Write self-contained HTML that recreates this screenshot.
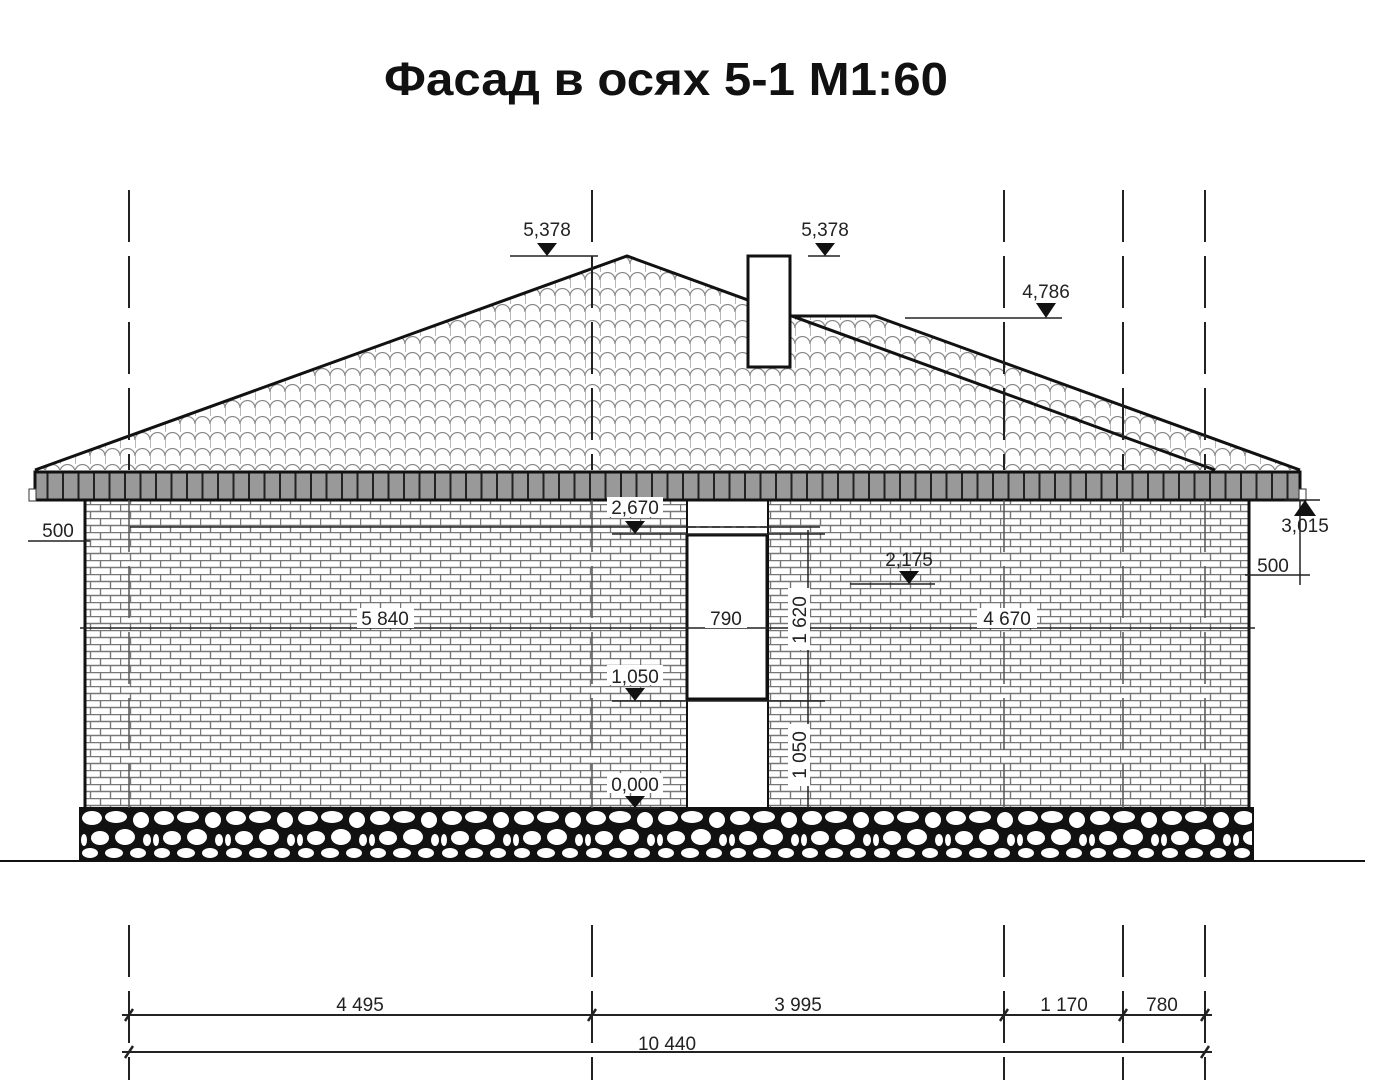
<!DOCTYPE html>
<html><head><meta charset="utf-8"><style>
html,body{margin:0;padding:0;background:#fff;}
svg{display:block;}
text{font-family:"Liberation Sans",sans-serif;}
</style></head><body>
<svg width="1375" height="1080" viewBox="0 0 1375 1080" xmlns="http://www.w3.org/2000/svg">
<defs>
<pattern id="roof" width="15" height="16" patternUnits="userSpaceOnUse">
<rect width="15" height="16" fill="#fff"/>
<path d="M0 8 A7.5 7.5 0 0 1 15 8" fill="none" stroke="#888" stroke-width="1.2"/>
<line x1="0" y1="8" x2="0" y2="16" stroke="#888" stroke-width="1.2"/>
</pattern>
<pattern id="brick" width="40" height="14" patternUnits="userSpaceOnUse">
<rect width="40" height="14" fill="#fff"/>
<line x1="0" y1="0.5" x2="40" y2="0.5" stroke="#777" stroke-width="1.6"/>
<line x1="0" y1="7.5" x2="40" y2="7.5" stroke="#777" stroke-width="1.6"/>
<line x1="0.5" y1="0" x2="0.5" y2="7" stroke="#777" stroke-width="1.4"/>
<line x1="20.5" y1="0" x2="20.5" y2="7" stroke="#777" stroke-width="1.4"/>
<line x1="10.5" y1="7" x2="10.5" y2="14" stroke="#777" stroke-width="1.4"/>
<line x1="30.5" y1="7" x2="30.5" y2="14" stroke="#777" stroke-width="1.4"/>
</pattern>
<pattern id="stone" x="80" y="808" width="72" height="52" patternUnits="userSpaceOnUse">
<rect width="72" height="52" fill="#111"/>
<ellipse cx="12" cy="10" rx="10" ry="7" fill="#fff"/>
<ellipse cx="36" cy="9" rx="11" ry="6" fill="#fff"/>
<ellipse cx="61" cy="12" rx="8" ry="8" fill="#fff"/>
<ellipse cx="20" cy="30" rx="9" ry="7" fill="#fff"/>
<ellipse cx="45" cy="29" rx="10" ry="8" fill="#fff"/>
<ellipse cx="4" cy="32" rx="3" ry="6" fill="#fff"/>
<ellipse cx="67" cy="32" rx="4" ry="6" fill="#fff"/>
<ellipse cx="10" cy="45" rx="8" ry="5" fill="#fff"/>
<ellipse cx="34" cy="45" rx="9" ry="5" fill="#fff"/>
<ellipse cx="58" cy="45" rx="8" ry="5" fill="#fff"/>
</pattern>
<pattern id="eave" width="15.5" height="30" patternUnits="userSpaceOnUse">
<rect width="15.5" height="30" fill="#999"/>
<line x1="1" y1="0" x2="1" y2="30" stroke="#222" stroke-width="2"/>
</pattern>
</defs>

<text x="384" y="95" font-size="46" font-weight="bold" fill="#111" textLength="564" lengthAdjust="spacingAndGlyphs">Фасад в осях 5-1 М1:60</text>

<!-- roof -->
<polygon points="35,470 627,256 790,316 875,316 1300,470" fill="url(#roof)"/>
<polyline points="35,470 627,256 1215,470" fill="none" stroke="#111" stroke-width="3"/>
<polyline points="790,316 875,316 1300,470" fill="none" stroke="#111" stroke-width="3"/>
<rect x="748" y="256" width="42" height="111" fill="#fff" stroke="#111" stroke-width="3"/>

<!-- wall -->
<rect x="85" y="500" width="1164" height="308" fill="url(#brick)"/>
<line x1="85" y1="500" x2="85" y2="808" stroke="#111" stroke-width="3"/>
<line x1="1249" y1="500" x2="1249" y2="808" stroke="#111" stroke-width="3"/>
<rect x="687" y="500" width="81" height="308" fill="#fff"/>
<line x1="687" y1="500" x2="687" y2="808" stroke="#111" stroke-width="2"/>
<line x1="768" y1="500" x2="768" y2="808" stroke="#111" stroke-width="2"/>
<line x1="688" y1="527" x2="767" y2="527" stroke="#333" stroke-width="1.5" stroke-dasharray="8 4"/>
<rect x="687" y="535" width="80" height="164" fill="#fff" stroke="#111" stroke-width="3"/>
<line x1="687" y1="700" x2="767" y2="700" stroke="#111" stroke-width="3"/>

<!-- eave -->
<rect x="35" y="472" width="1265" height="28" fill="url(#eave)" stroke="#111" stroke-width="3"/>
<rect x="29" y="489" width="7" height="12" fill="#fff" stroke="#333" stroke-width="1"/>
<rect x="1299" y="489" width="7" height="12" fill="#fff" stroke="#333" stroke-width="1"/>

<!-- foundation -->
<rect x="80" y="808" width="1173" height="52" fill="url(#stone)" stroke="#111" stroke-width="2"/>
<line x1="0" y1="861" x2="1365" y2="861" stroke="#111" stroke-width="2"/>

<!-- axes -->
<g stroke="#222" stroke-width="2" stroke-dasharray="52 14">
<line x1="129" y1="190" x2="129" y2="470"/>
<line x1="592" y1="190" x2="592" y2="470"/>
<line x1="1004" y1="190" x2="1004" y2="470"/>
<line x1="1123" y1="190" x2="1123" y2="470"/>
<line x1="1205" y1="190" x2="1205" y2="470"/>
<line x1="129" y1="925" x2="129" y2="1080"/>
<line x1="592" y1="925" x2="592" y2="1080"/>
<line x1="1004" y1="925" x2="1004" y2="1080"/>
<line x1="1123" y1="925" x2="1123" y2="1080"/>
<line x1="1205" y1="925" x2="1205" y2="1080"/>
</g>
<g stroke="#555" stroke-width="1.5" stroke-dasharray="52 14">
<line x1="129" y1="500" x2="129" y2="808"/>
<line x1="592" y1="500" x2="592" y2="808"/>
<line x1="1004" y1="500" x2="1004" y2="808"/>
<line x1="1123" y1="500" x2="1123" y2="808"/>
<line x1="1205" y1="500" x2="1205" y2="808"/>
</g>

<!-- horizontal dimension lines on wall -->
<g stroke="#222" stroke-width="1.5">
<line x1="130" y1="527" x2="820" y2="527"/>
<line x1="80" y1="628" x2="1255" y2="628"/>
<line x1="612" y1="534" x2="825" y2="534"/>
<line x1="612" y1="701" x2="825" y2="701"/>
<line x1="808" y1="530" x2="808" y2="808"/>
<line x1="850" y1="584" x2="935" y2="584"/>
<line x1="28" y1="541" x2="90" y2="541"/>
<line x1="1245" y1="575" x2="1310" y2="575"/>
<line x1="1300" y1="500" x2="1300" y2="585"/>
<line x1="1285" y1="500" x2="1320" y2="500"/>
<line x1="510" y1="256" x2="598" y2="256"/>
<line x1="905" y1="318" x2="1062" y2="318"/>
<line x1="808" y1="256" x2="840" y2="256"/>
<line x1="612" y1="808" x2="660" y2="808"/>
</g>
<g fill="#fff">
<rect x="357" y="608" width="57" height="20"/>
<rect x="705" y="608" width="42" height="20"/>
<rect x="977" y="608" width="60" height="20"/>
<rect x="607" y="497" width="56" height="20"/>
<rect x="607" y="665" width="56" height="20"/>
<rect x="607" y="773" width="56" height="20"/>
<rect x="788" y="588" width="22" height="62"/>
<rect x="788" y="724" width="22" height="62"/>
</g>
<g font-size="19" fill="#222">
<text x="385" y="625" text-anchor="middle">5 840</text>
<text x="726" y="625" text-anchor="middle">790</text>
<text x="1007" y="625" text-anchor="middle">4 670</text>
<text x="635" y="514" text-anchor="middle">2,670</text>
<text x="635" y="683" text-anchor="middle">1,050</text>
<text x="635" y="791" text-anchor="middle">0,000</text>
<text x="909" y="566" text-anchor="middle">2,175</text>
<text x="547" y="236" text-anchor="middle">5,378</text>
<text x="825" y="236" text-anchor="middle">5,378</text>
<text x="1046" y="298" text-anchor="middle">4,786</text>
<text x="58" y="537" text-anchor="middle">500</text>
<text x="1273" y="572" text-anchor="middle">500</text>
<text x="1305" y="532" text-anchor="middle">3,015</text>
<text transform="translate(806,620) rotate(-90)" text-anchor="middle">1 620</text>
<text transform="translate(806,755) rotate(-90)" text-anchor="middle">1 050</text>
</g>
<!-- level triangles -->
<g fill="#111">
<polygon points="537,243 557,243 547,256"/>
<polygon points="815,243 835,243 825,256"/>
<polygon points="1036,303 1056,303 1046,318"/>
<polygon points="625,521 645,521 635,534"/>
<polygon points="625,688 645,688 635,701"/>
<polygon points="625,796 645,796 635,808"/>
<polygon points="899,571 919,571 909,584"/>
<polygon points="1294,516 1316,516 1305,500"/>
</g>

<!-- bottom dims -->
<g stroke="#222" stroke-width="2">
<line x1="122" y1="1015" x2="1212" y2="1015"/>
<line x1="122" y1="1052" x2="1212" y2="1052"/>
</g>
<g stroke="#222" stroke-width="2.5">
<line x1="125" y1="1021" x2="133" y2="1009"/>
<line x1="588" y1="1021" x2="596" y2="1009"/>
<line x1="1000" y1="1021" x2="1008" y2="1009"/>
<line x1="1119" y1="1021" x2="1127" y2="1009"/>
<line x1="1201" y1="1021" x2="1209" y2="1009"/>
<line x1="125" y1="1058" x2="133" y2="1046"/>
<line x1="1201" y1="1058" x2="1209" y2="1046"/>
</g>
<g fill="#fff">
<rect x="330" y="995" width="60" height="19"/>
<rect x="767" y="995" width="63" height="19"/>
<rect x="1030" y="995" width="66" height="19"/>
<rect x="1138" y="995" width="48" height="19"/>
</g>
<g font-size="19" fill="#222" text-anchor="middle">
<text x="360" y="1011">4 495</text>
<text x="798" y="1011">3 995</text>
<text x="1064" y="1011">1 170</text>
<text x="1162" y="1011">780</text>
<text x="667" y="1050">10 440</text>
</g>
</svg>
</body></html>
